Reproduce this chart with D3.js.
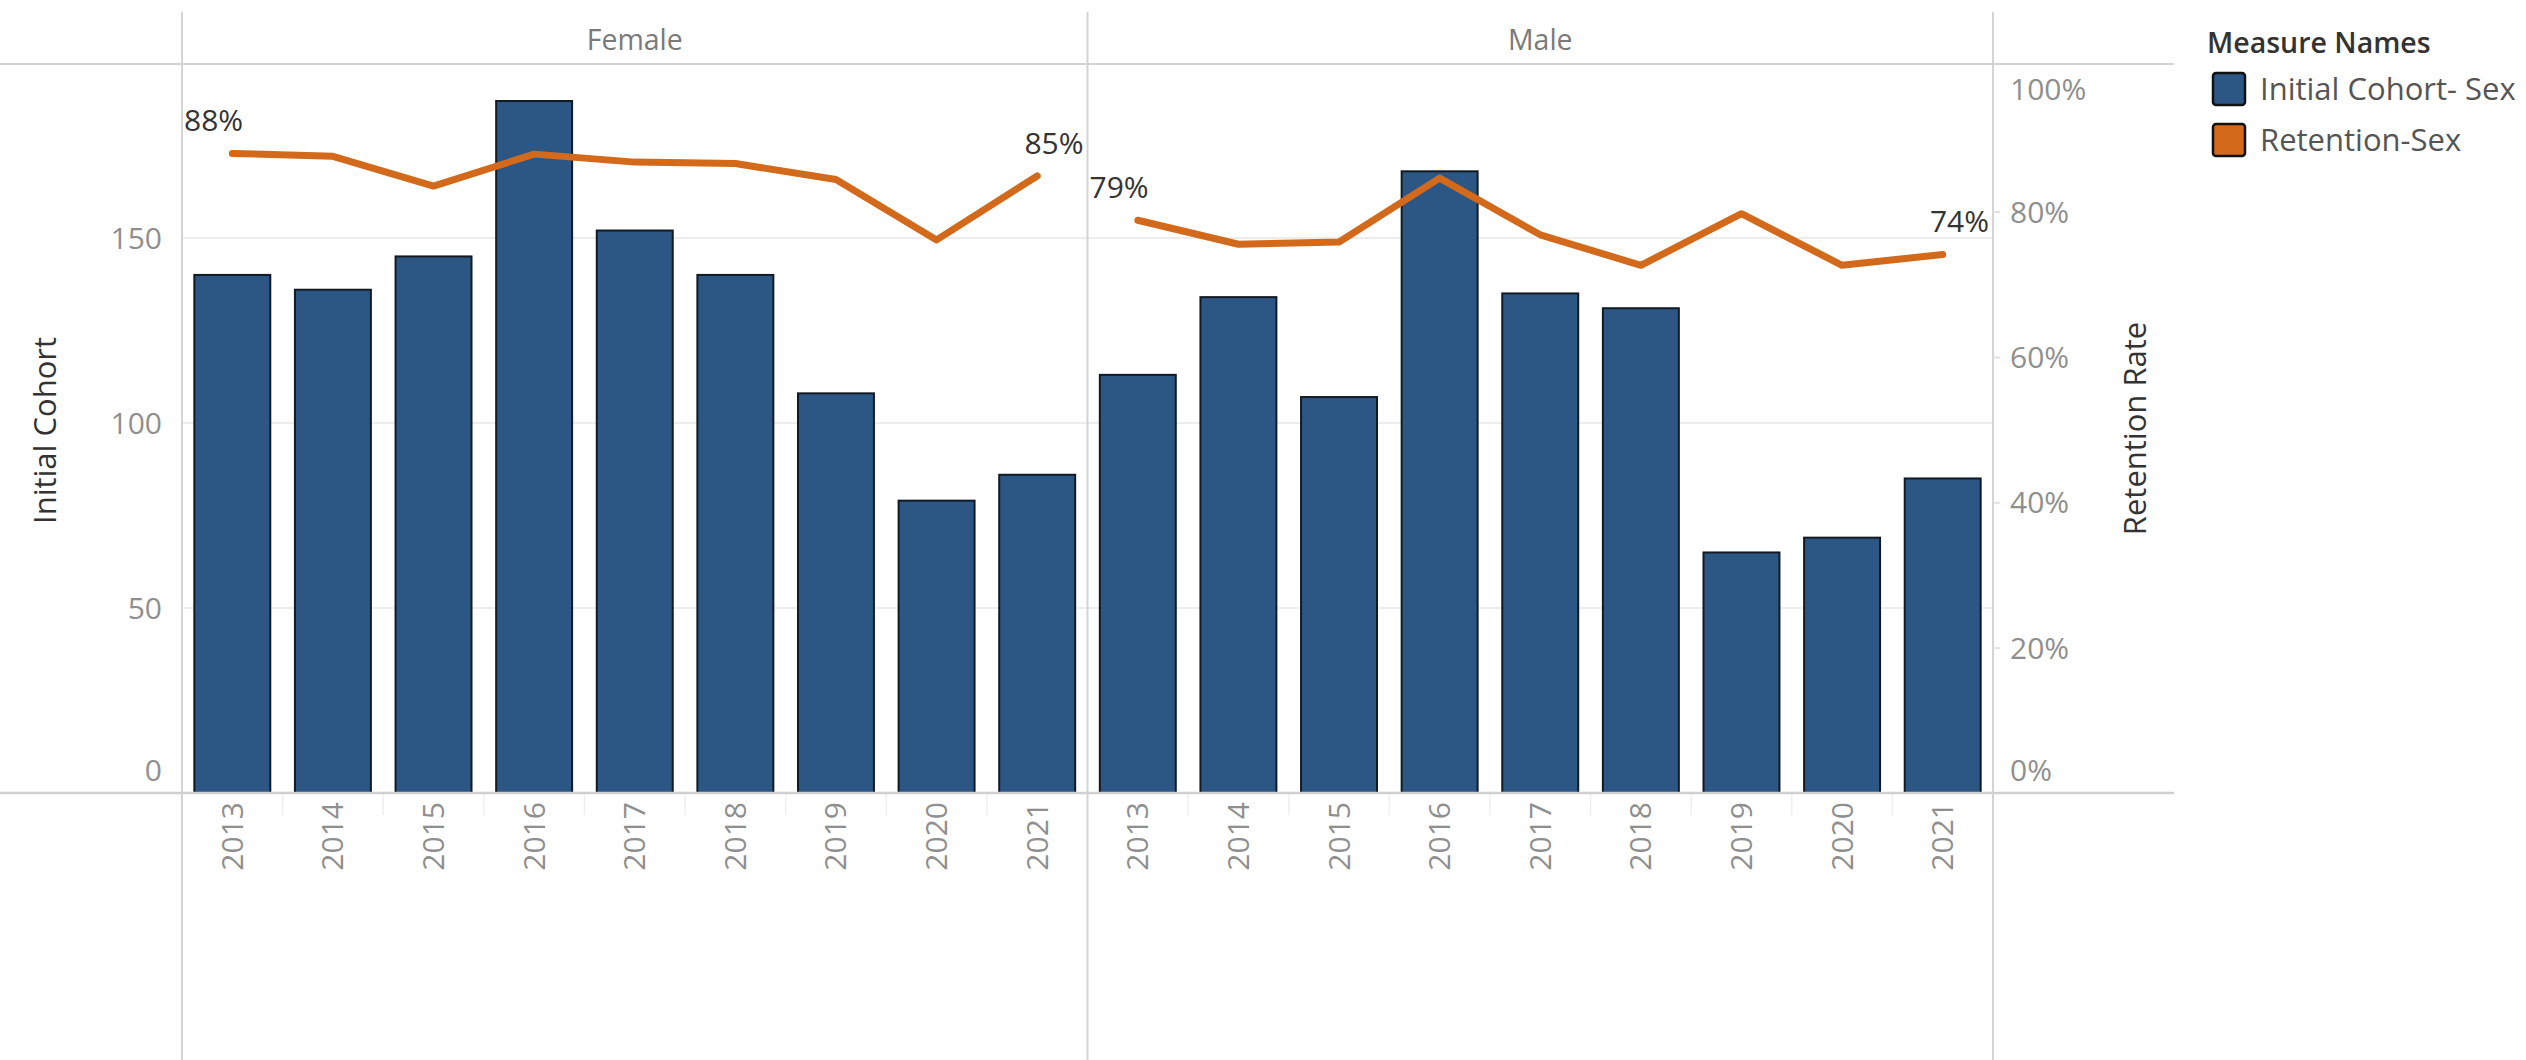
<!DOCTYPE html>
<html>
<head>
<meta charset="utf-8">
<script src="https://cdn.jsdelivr.net/npm/d3@7"></script>
<style>
  html, body { margin: 0; padding: 0; background: #fff; }
  svg { display: block; }
  text { font-family: "Open Sans", "DejaVu Sans", sans-serif; }
</style>
</head>
<body>
<svg id="chart" width="2526" height="1060"></svg>
<script>
// ---------------- data ----------------
const years = ["2013", "2014", "2015", "2016", "2017", "2018", "2019", "2020", "2021"];
const panes = ["Female", "Male"];
const cohortFemale = [140, 136, 145, 187, 152, 140, 108, 79, 86];
const cohortMale = [113, 134, 107, 168, 135, 131, 65, 69, 85];
const retentionFemale = [0.880, 0.876, 0.835, 0.879, 0.868, 0.866, 0.844, 0.761, 0.849];
const retentionMale = [0.788, 0.755, 0.758, 0.846, 0.768, 0.726, 0.797, 0.726, 0.741];
const cohortTicks = [0, 50, 100, 150];
const retentionTicks = [0, 0.2, 0.4, 0.6, 0.8, 1.0];
const legendItems = ["Initial Cohort- Sex", "Retention-Sex"];

const cohortByPane = { Female: cohortFemale, Male: cohortMale };
const retentionByPane = { Female: retentionFemale, Male: retentionMale };

// ---------------- layout ----------------
const W = 2526, H = 1060;
const plotLeft = 182, plotRight = 1993, plotTop = 64, plotBottom = 793;
const frameTop = 12, frameRight = 2174;
const barColor = "#2c5784", lineColor = "#d3691b";
const gridColor = "#ededed", frameColor = "#d4d4d4";
const tickColor = "#8f8f8f";
const tickFont = 30;

const svg = d3.select("#chart");

const xPane = d3.scaleBand().domain(panes).range([plotLeft, plotRight]);
const xYear = d3.scaleBand().domain(years).range([0, xPane.bandwidth()])
  .paddingInner(0.245).paddingOuter(0.1225);
const yLeft = d3.scaleLinear().domain([0, 197]).range([plotBottom, plotTop]);
const yRight = d3.scaleLinear().domain([0, 1.003]).range([plotBottom, plotTop]);

// gridlines
svg.append("g").selectAll("line")
  .data(cohortTicks.filter(d => d > 0))
  .join("line")
  .attr("x1", plotLeft).attr("x2", plotRight)
  .attr("y1", d => yLeft(d)).attr("y2", d => yLeft(d))
  .attr("stroke", gridColor).attr("stroke-width", 2);

// frame lines
const frame = svg.append("g").attr("stroke", frameColor).attr("stroke-width", 2);
frame.append("line").attr("x1", 0).attr("x2", frameRight).attr("y1", plotTop).attr("y2", plotTop);
[plotLeft, xPane("Male"), plotRight].forEach(x => {
  frame.append("line").attr("x1", x).attr("x2", x).attr("y1", frameTop).attr("y2", H);
});

// pane headers
svg.append("g").selectAll("text")
  .data(panes).join("text")
  .attr("x", d => xPane(d) + xPane.bandwidth() / 2)
  .attr("y", 40).attr("dy", "0.35em")
  .attr("text-anchor", "middle")
  .attr("font-size", 28.5).attr("fill", "#7a7a7a")
  .text(d => d);

// panes: bars, lines, labels
panes.forEach(p => {
  const g = svg.append("g").attr("transform", `translate(${xPane(p)},0)`);
  const cohort = cohortByPane[p];
  const ret = retentionByPane[p];

  // faint separators below axis
  g.append("g").selectAll("line")
    .data(years.slice(1)).join("line")
    .attr("x1", d => xYear(d) - xYear.step() * xYear.paddingInner() / 2)
    .attr("x2", d => xYear(d) - xYear.step() * xYear.paddingInner() / 2)
    .attr("y1", plotBottom).attr("y2", plotBottom + 22)
    .attr("stroke", "#efefef").attr("stroke-width", 1.5);

  g.append("g").selectAll("rect")
    .data(years).join("rect")
    .attr("x", d => xYear(d))
    .attr("width", xYear.bandwidth())
    .attr("y", (d, i) => yLeft(cohort[i]))
    .attr("height", (d, i) => plotBottom - yLeft(cohort[i]))
    .attr("fill", barColor)
    .attr("stroke", "#121a24").attr("stroke-width", 2);

  const line = d3.line()
    .x((d, i) => xYear(years[i]) + xYear.bandwidth() / 2)
    .y(d => yRight(d));
  g.append("path").datum(ret)
    .attr("d", line)
    .attr("fill", "none").attr("stroke", lineColor)
    .attr("stroke-width", 7).attr("stroke-linecap", "round").attr("stroke-linejoin", "round");

  const fmt = d3.format(".0%");
  const pw = xPane.bandwidth();
  g.append("text")
    .attr("x", 2).attr("y", yRight(ret[0]) - 22)
    .attr("text-anchor", "start")
    .attr("font-size", 30).attr("fill", "#333")
    .text(fmt(ret[0]));
  g.append("text")
    .attr("x", pw - 4).attr("y", yRight(ret[ret.length - 1]) - 22)
    .attr("text-anchor", "end")
    .attr("font-size", 30).attr("fill", "#333")
    .text(fmt(ret[ret.length - 1]));

  // x axis (years)
  const xAxis = g.append("g").attr("transform", `translate(0,${plotBottom})`)
    .call(d3.axisBottom(xYear).tickSize(0).tickPadding(0));
  xAxis.select(".domain").remove();
  xAxis.selectAll("text")
    .attr("transform", "rotate(-90)")
    .attr("x", -9).attr("y", 0).attr("dy", "0.35em")
    .attr("text-anchor", "end")
    .attr("font-size", tickFont).attr("fill", tickColor)
    .style("font-family", "'Open Sans', sans-serif");
});

// bottom axis line
svg.append("line").attr("x1", 0).attr("x2", frameRight)
  .attr("y1", plotBottom).attr("y2", plotBottom)
  .attr("stroke", "#d0d0d0").attr("stroke-width", 2.5);

// left axis
const leftAxis = svg.append("g").attr("transform", `translate(${plotLeft},0)`)
  .call(d3.axisLeft(yLeft).tickValues(cohortTicks).tickSize(0).tickPadding(20).tickFormat(d3.format("d")));
leftAxis.select(".domain").remove();
leftAxis.selectAll("text")
  .attr("font-size", tickFont).attr("fill", tickColor)
  .style("font-family", "'Open Sans', sans-serif")
  .attr("dy", d => d === 0 ? "-0.42em" : "0.35em");

// right axis
const rightAxis = svg.append("g").attr("transform", `translate(${plotRight},0)`)
  .call(d3.axisRight(yRight).tickValues(retentionTicks).tickSize(7).tickPadding(10).tickFormat(d3.format(".0%")));
rightAxis.select(".domain").remove();
rightAxis.selectAll(".tick line").attr("stroke", "#e2e2e2").attr("stroke-width", 2)
  .attr("opacity", d => (d === 0 || d === 1) ? 0 : 1);
rightAxis.selectAll("text")
  .attr("font-size", tickFont).attr("fill", tickColor)
  .style("font-family", "'Open Sans', sans-serif")
  .attr("dy", d => d === 0 ? "-0.42em" : (d === 1 ? "1.1em" : "0.35em"));

// axis titles
svg.append("text")
  .attr("transform", `translate(45,${(plotTop + plotBottom) / 2 + 2}) rotate(-90)`)
  .attr("text-anchor", "middle").attr("dy", "0.35em")
  .attr("font-size", 31).attr("fill", "#333")
  .text("Initial Cohort");
svg.append("text")
  .attr("transform", `translate(2135,${(plotTop + plotBottom) / 2}) rotate(-90)`)
  .attr("text-anchor", "middle").attr("dy", "0.35em")
  .attr("font-size", 31).attr("fill", "#333")
  .text("Retention Rate");

// legend
const legend = svg.append("g").attr("transform", "translate(2207,0)");
legend.append("text")
  .attr("x", 0).attr("y", 43).attr("dy", "0.35em")
  .attr("font-size", 28.5).attr("font-weight", 600).attr("fill", "#333")
  .text("Measure Names");
const legendColor = d3.scaleOrdinal().domain(legendItems).range([barColor, lineColor]);
const li = legend.selectAll("g.item").data(legendItems).join("g")
  .attr("class", "item")
  .attr("transform", (d, i) => `translate(0,${89 + i * 51})`);
li.append("rect")
  .attr("x", 6).attr("y", -16).attr("width", 32).attr("height", 32).attr("rx", 3)
  .attr("fill", d => legendColor(d)).attr("stroke", "#111").attr("stroke-width", 2.5);
li.append("text")
  .attr("x", 53).attr("y", 0).attr("dy", "0.35em")
  .attr("font-size", 31).attr("fill", "#555")
  .text(d => d);
</script>
</body>
</html>
